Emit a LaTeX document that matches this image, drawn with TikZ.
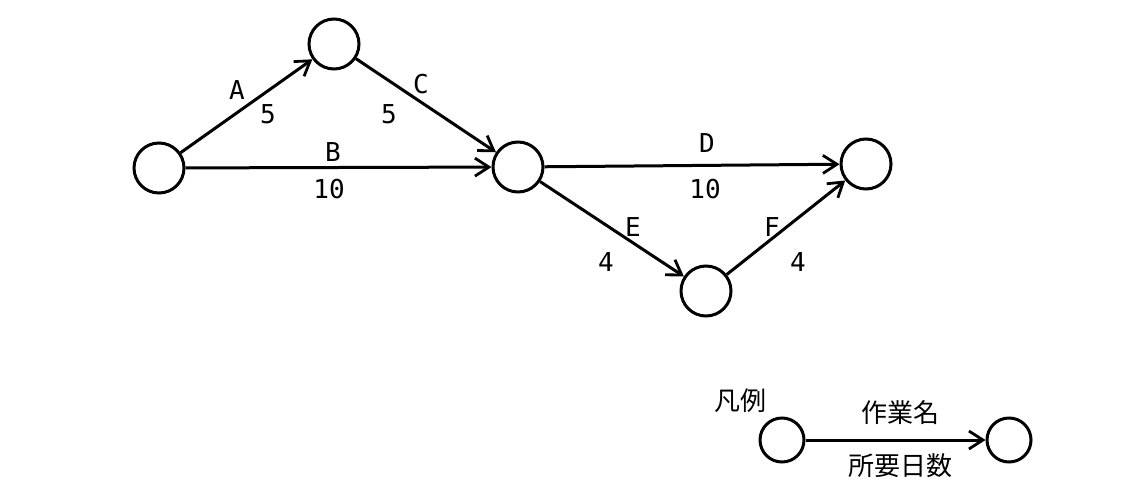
\documentclass[tikz,border=0pt]{standalone}
\usepackage{fontspec}
\setmonofont{DejaVu Sans Mono}
\newfontfamily\jpfont{Noto Sans CJK JP}
\usetikzlibrary{arrows.meta}

\begin{document}
\begin{tikzpicture}[x=0.5pt,y=-0.5pt,line width=1.5pt,
  >={Straight Barb[length=7pt,width=9pt,line width=1.4pt]},
  event/.style={draw,circle,minimum size=25pt,inner sep=0pt},
  smallevent/.style={draw,circle,minimum size=22pt,inner sep=0pt},
  job/.style={font=\ttfamily\fontsize{13}{15}\selectfont,inner sep=0pt},
  legend/.style={font=\jpfont\fontsize{13}{15}\selectfont,inner sep=0pt}]
  % picture is laid out in reference pixels (1122 x 492)
  \useasboundingbox (0,0) rectangle (1122,492);

  % events
  \node[event] (s)  at (159,168) {};
  \node[event] (p)  at (334,44)  {};
  \node[event] (m)  at (518,167) {};
  \node[event] (t)  at (866,164) {};
  \node[event] (q)  at (706,291) {};

  % activities
  \draw[->] (s) -- (p);
  \draw[->] (p) -- (m);
  \draw[->] (s) -- (m);
  \draw[->] (m) -- (t);
  \draw[->] (m) -- (q);
  \draw[->] (q) -- (t);

  % names and days
  \node[job] (nA) at (237,90)  {A};
  \node[job] (dA) at (268,114) {5};
  \node[job] (nC) at (421,84)  {C};
  \node[job] (dC) at (389,114) {5};
  \node[job] (nB) at (333,152) {B};
  \node[job] (dB) at (329,189) {10};
  \node[job] (nD) at (707,143) {D};
  \node[job] (dD) at (705,189) {10};
  \node[job] (nE) at (633,227) {E};
  \node[job] (dE) at (606,262) {4};
  \node[job] (nF) at (772,227) {F};
  \node[job] (dF) at (798,262) {4};

  % legend
  \node[legend] (key) at (740,401) {凡例};
  \node[smallevent] (ka) at (782,440) {};
  \node[smallevent] (kb) at (1009,440) {};
  \draw[->] (ka) -- (kb);
  \node[legend] (kname) at (900,413) {作業名};
  \node[legend] (kdays) at (900,466) {所要日数};
\end{tikzpicture}
\end{document}
